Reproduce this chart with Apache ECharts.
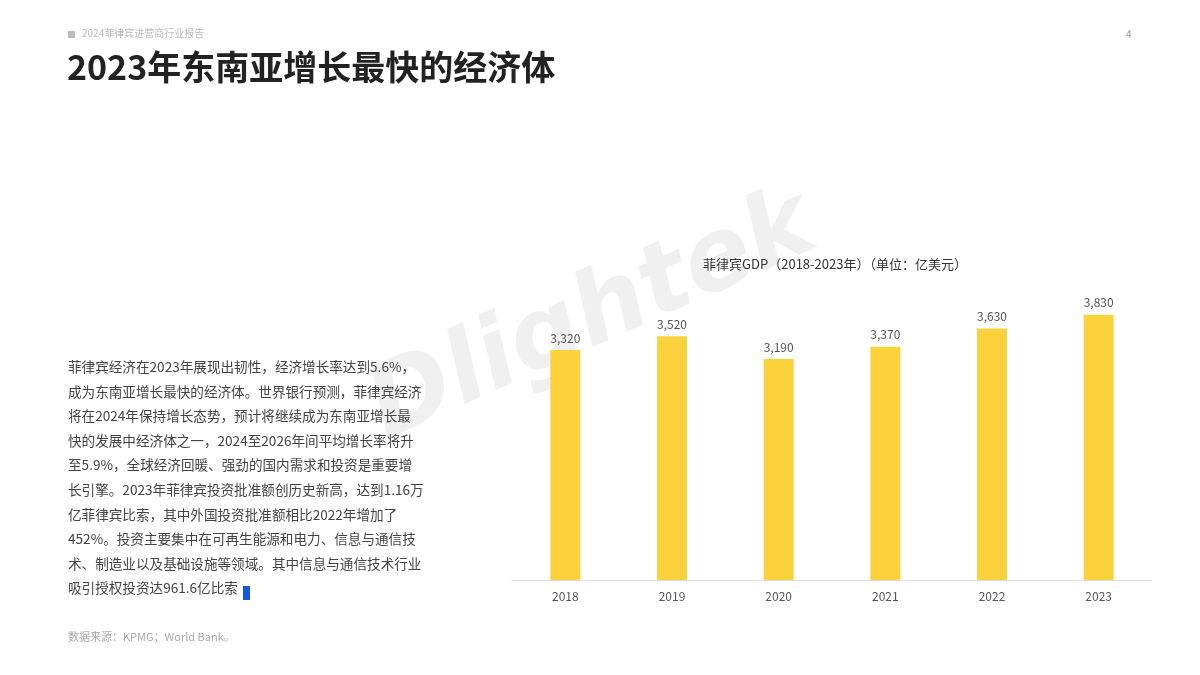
<!DOCTYPE html>
<html><head><meta charset="utf-8">
<script src="https://cdn.jsdelivr.net/npm/echarts@6/dist/echarts.min.js"></script>
<style>html,body{margin:0;padding:0;background:#fff}#c{width:1200px;height:675px}</style>
</head><body><div id="c"></div>
<script>
const categories = ['2018','2019','2020','2021','2022','2023'];
const gdpValues = [3320, 3520, 3190, 3370, 3630, 3830];
const bodyLines = [
 '菲律宾经济在2023年展现出韧性，经济增长率达到5.6%，',
 '成为东南亚增长最快的经济体。世界银行预测，菲律宾经济',
 '将在2024年保持增长态势，预计将继续成为东南亚增长最',
 '快的发展中经济体之一，2024至2026年间平均增长率将升',
 '至5.9%，全球经济回暖、强劲的国内需求和投资是重要增',
 '长引擎。2023年菲律宾投资批准额创历史新高，达到1.16万',
 '亿菲律宾比索，其中外国投资批准额相比2022年增加了',
 '452%。投资主要集中在可再生能源和电力、信息与通信技',
 '术、制造业以及基础设施等领域。其中信息与通信技术行业',
 '吸引授权投资达961.6亿比索'
];
const font = '"Noto Sans CJK SC","Noto Sans",sans-serif';
const chart = echarts.init(document.getElementById('c'));
const graphics = [
 {type:'rect',left:68,top:31,shape:{width:7,height:7},style:{fill:'#bbb'}},
 {type:'text',left:82,top:28,style:{text:'2024菲律宾进营商行业报告',fill:'#bbb',font:'10px '+font}},
 {type:'text',left:1126,top:29,style:{text:'4',fill:'#999',font:'10px '+font}},
 {type:'text',left:67,top:50,style:{text:'2023年东南亚增长最快的经济体',fill:'#222',font:'bold 34px '+font}},
 {type:'text',left:68,top:631,style:{text:'数据来源：KPMG；World Bank。',fill:'#aaa',font:'11px '+font}},
 {type:'text',x:355,y:370,rotation:0.42,z:-1,style:{text:'Dlightek',fill:'rgba(0,0,0,0.06)',font:'bold italic 100px "DejaVu Sans",sans-serif'}},
 {type:'rect',left:243,top:586,shape:{width:7,height:14},style:{fill:'#1a56db'}}
];
bodyLines.forEach((t,i)=>graphics.push({type:'text',left:68,top:360+i*24.6,style:{text:t,fill:'#444',font:'13.6px '+font}}));
chart.setOption({
 animation:false,
 title:{text:'菲律宾GDP（2018-2023年）（单位：亿美元）',left:830,textAlign:'center',top:253,textStyle:{fontSize:13,fontWeight:'normal',color:'#333',fontFamily:font}},
 grid:{left:512,right:48,top:303,bottom:95},
 xAxis:{type:'category',data:categories,axisTick:{show:false},axisLine:{lineStyle:{color:'#ddd'}},axisLabel:{color:'#555',fontSize:12,margin:10,fontFamily:font}},
 yAxis:{type:'value',min:0,max:4000,show:false,splitLine:{show:false}},
 series:[{type:'bar',data:gdpValues,barWidth:30,itemStyle:{color:'#fcd23c'},
  label:{show:true,position:'top',color:'#555',fontSize:12,fontFamily:font,distance:6,formatter:p=>p.value.toLocaleString('en-US')}}],
 graphic:graphics
});
</script></body></html>
